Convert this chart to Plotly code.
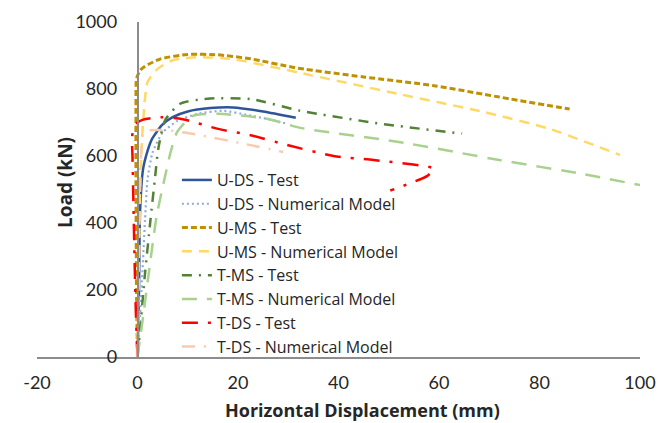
import plotly.graph_objects as go

# Load-displacement curves (x: horizontal displacement in mm, y: load in kN)
uds_test_x = [0, 0.3, 0.5, 1.1, 2.0, 2.9, 4.9, 7.0, 10, 14.5, 19, 25, 31.5]
uds_test_y = [0, 200, 430, 560, 615, 651, 693, 716, 733, 743, 745, 733, 714]

uds_num_x = [0, 0.8, 1.5, 2.0, 3.0, 5.0, 8.0, 12, 17, 22, 26, 29.8]
uds_num_y = [0, 200, 410, 530, 610, 670, 705, 726, 735, 722, 710, 696]

ums_test_x = [0, -0.2, -0.3, -0.3, -0.2, 0.5, 1.5, 4.6, 10, 16, 22.5, 32, 45, 59, 72, 86]
ums_test_y = [0, 200, 500, 750, 830, 855, 868, 890, 903, 902, 890, 862, 836, 810, 776, 740]

ums_num_x = [0, 0.3, 0.6, 1.2, 2.0, 4.0, 7.0, 12.5, 19, 32.4, 52, 69, 82, 96]
ums_num_y = [0, 300, 550, 720, 821, 860, 886, 895, 889, 848, 785, 731, 681, 603]

tms_test_x = [0, 0.5, 1.5, 2.6, 3.5, 4.1, 5.5, 8.5, 13.9, 22.5, 32.4, 49, 64.6]
tms_test_y = [0, 80, 250, 412, 537, 618, 707, 756, 771, 770, 735, 695, 667]

tms_num_x = [0, 1.2, 2.5, 3.8, 5.2, 6.6, 7.9, 11, 16, 25.8, 32.4, 52, 72, 88.7, 100]
tms_num_y = [0, 130, 280, 420, 520, 612, 672, 720, 726, 711, 684, 642, 588, 546, 513]

tds_test_x = [0, -0.3, -0.6, -0.8, -1.0, -1.1, -0.8, 0, 1, 4.6, 9, 16, 22.5, 30, 39, 47, 59, 57.6, 50.3]
tds_test_y = [0, 120, 300, 450, 600, 650, 685, 700, 708, 716, 710, 681, 662, 632, 600, 588, 562, 540, 497]

tds_num_x = [0, 0.2, 0.4, 0.7, 1.2, 2.6, 6.0, 12.5, 21, 29]
tds_num_y = [0, 200, 400, 600, 670, 677, 677, 662, 637, 612]

series = [
    ("U-DS - Test", uds_test_x, uds_test_y, "#2F5597", "solid", 2.5),
    ("U-DS - Numerical Model", uds_num_x, uds_num_y, "#8FAADC", "2px,3px", 2.2),
    ("U-MS - Test", ums_test_x, ums_test_y, "#BF9000", "6px,3px", 3),
    ("U-MS - Numerical Model", ums_num_x, ums_num_y, "#FFD966", "10px,7px", 2.5),
    ("T-MS - Test", tms_test_x, tms_test_y, "#548235", "10px,7px,2px,7px", 2.5),
    ("T-MS - Numerical Model", tms_num_x, tms_num_y, "#A9D18E", "15px,10px", 2.5),
    ("T-DS - Test", tds_test_x, tds_test_y, "#FF0000", "16px,10px,3px,10px", 2.5),
    ("T-DS - Numerical Model", tds_num_x, tds_num_y, "#F8CBAD", "13px,9px,2px,9px", 2.5),
]

x_ticks = [-20, 0, 20, 40, 60, 80, 100]
y_ticks = [0, 200, 400, 600, 800, 1000]
x_title = "Horizontal Displacement (mm)"
y_title = "Load (kN)"

fig = go.Figure()
for name, xs, ys, color, dash, width in series:
    fig.add_trace(go.Scatter(
        x=xs, y=ys, mode="lines", name=name,
        line=dict(color=color, dash=dash, width=width, shape="spline", smoothing=0.6),
    ))

tick_font = "Lato, 'Open Sans', sans-serif"
label_font = "'Open Sans', Lato, sans-serif"
text_color = "#262626"
axis_color = "#8C8C8C"

fig.update_layout(
    width=662, height=423,
    margin=dict(l=37, r=22, t=22, b=66),
    plot_bgcolor="white", paper_bgcolor="white",
    font=dict(family=tick_font, size=18, color=text_color),
    showlegend=True,
    legend=dict(
        x=0.232, y=0.579, xanchor="left", yanchor="top",
        bgcolor="rgba(0,0,0,0)",
        font=dict(family=label_font, size=16, color=text_color),
        itemwidth=30, tracegroupgap=0,
    ),
    xaxis=dict(
        range=[-20, 100], tickvals=x_ticks, ticktext=[str(v) for v in x_ticks],
        tickfont=dict(size=18),
        showgrid=False, zeroline=False, showline=True, linecolor=axis_color, linewidth=1.5,
        ticks="", ticklabelstandoff=9, automargin=False,
    ),
    yaxis=dict(
        range=[0, 1000], tickvals=y_ticks, ticktext=[str(v) for v in y_ticks],
        tickfont=dict(size=18),
        anchor="free", position=20 / 120,
        showgrid=False, zeroline=False, showline=True, linecolor=axis_color, linewidth=1.5,
        ticks="", ticklabelstandoff=16, automargin=False,
    ),
    annotations=[
        dict(text=f"<b>{x_title}</b>", xref="paper", yref="paper",
             x=(362 - 37) / 603, y=(357 - 410) / 335, xanchor="center", yanchor="middle",
             showarrow=False, font=dict(family=label_font, size=18, color=text_color)),
        dict(text=f"<b>{y_title}</b>", xref="paper", yref="paper",
             x=(65 - 37) / 603, y=(357 - 183) / 335, xanchor="center", yanchor="middle",
             textangle=-90, showarrow=False,
             font=dict(family=label_font, size=19, color=text_color)),
    ],
)

fig.write_html("out.html")
